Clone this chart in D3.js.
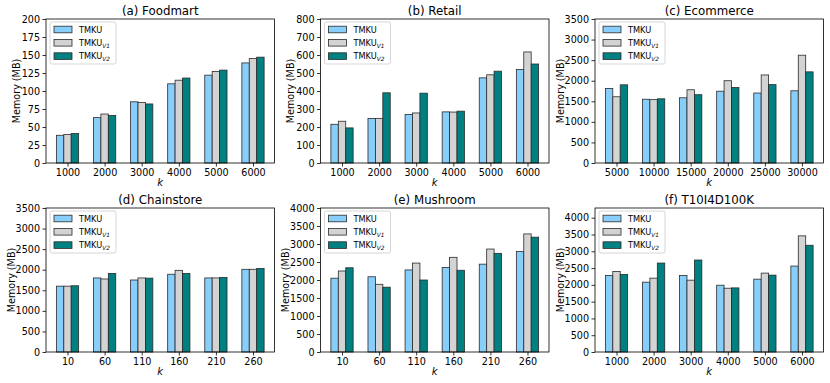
<!DOCTYPE html>
<html>
<head>
<meta charset="utf-8">
<script src="https://cdn.jsdelivr.net/npm/d3@7"></script>
<style>
  html, body { margin: 0; padding: 0; background: #fff; }
  svg { display: block; font-family: "DejaVu Sans", sans-serif; }
</style>
</head>
<body>
<svg id="chart" width="830" height="383"></svg>
<script>
// ---------- Data ----------
const seriesNames = ["TMKU", "TMKU_V1", "TMKU_V2"];
const seriesColors = ["#87CEFA", "#D3D3D3", "#008080"];

const panelTitles = ["(a) Foodmart", "(b) Retail", "(c) Ecommerce", "(d) Chainstore", "(e) Mushroom", "(f) T10I4D100K"];

const kFoodmart = ["1000", "2000", "3000", "4000", "5000", "6000"];
const tmkuFoodmart   = [38.5, 63, 85, 110, 122, 139];
const tmkuV1Foodmart = [39.5, 68, 84, 115, 127, 145];
const tmkuV2Foodmart = [41, 66, 82, 118, 129, 147];
const yTicksFoodmart = [0, 25, 50, 75, 100, 125, 150, 175, 200];

const kRetail = ["1000", "2000", "3000", "4000", "5000", "6000"];
const tmkuRetail   = [215, 247, 270, 284, 473, 520];
const tmkuV1Retail = [232, 248, 278, 283, 490, 617];
const tmkuV2Retail = [195, 390, 388, 288, 510, 550];
const yTicksRetail = [0, 100, 200, 300, 400, 500, 600, 700, 800];

const kEcommerce = ["5000", "10000", "15000", "20000", "25000", "30000"];
const tmkuEcommerce   = [1810, 1550, 1585, 1745, 1700, 1755];
const tmkuV1Ecommerce = [1610, 1540, 1780, 2000, 2140, 2620];
const tmkuV2Ecommerce = [1900, 1560, 1660, 1835, 1905, 2215];
const yTicksEcommerce = [0, 500, 1000, 1500, 2000, 2500, 3000, 3500];

const kChainstore = ["10", "60", "110", "160", "210", "260"];
const tmkuChainstore   = [1600, 1800, 1750, 1890, 1800, 2010];
const tmkuV1Chainstore = [1600, 1775, 1800, 1985, 1800, 2010];
const tmkuV2Chainstore = [1610, 1910, 1795, 1910, 1810, 2030];
const yTicksChainstore = [0, 500, 1000, 1500, 2000, 2500, 3000, 3500];

const kMushroom = ["10", "60", "110", "160", "210", "260"];
const tmkuMushroom   = [2050, 2090, 2280, 2350, 2440, 2790];
const tmkuV1Mushroom = [2250, 1880, 2470, 2630, 2860, 3280];
const tmkuV2Mushroom = [2340, 1800, 2000, 2270, 2740, 3190];
const yTicksMushroom = [0, 500, 1000, 1500, 2000, 2500, 3000, 3500, 4000];

const kT10 = ["1000", "2000", "3000", "4000", "5000", "6000"];
const tmkuT10   = [2280, 2080, 2280, 1990, 2170, 2560];
const tmkuV1T10 = [2400, 2200, 2140, 1900, 2350, 3460];
const tmkuV2T10 = [2310, 2650, 2740, 1910, 2290, 3180];
const yTicksT10 = [0, 500, 1000, 1500, 2000, 2500, 3000, 3500, 4000];

const yMaxes = [200, 800, 3500, 3500, 4000, 4290];

// ---------- Build panels ----------
const panels = [
  { cats: kFoodmart, series: [tmkuFoodmart, tmkuV1Foodmart, tmkuV2Foodmart], ticks: yTicksFoodmart },
  { cats: kRetail, series: [tmkuRetail, tmkuV1Retail, tmkuV2Retail], ticks: yTicksRetail },
  { cats: kEcommerce, series: [tmkuEcommerce, tmkuV1Ecommerce, tmkuV2Ecommerce], ticks: yTicksEcommerce },
  { cats: kChainstore, series: [tmkuChainstore, tmkuV1Chainstore, tmkuV2Chainstore], ticks: yTicksChainstore },
  { cats: kMushroom, series: [tmkuMushroom, tmkuV1Mushroom, tmkuV2Mushroom], ticks: yTicksMushroom },
  { cats: kT10, series: [tmkuT10, tmkuV1T10, tmkuV2T10], ticks: yTicksT10 }
];

const svg = d3.select("#chart");
const lefts = [46, 320.5, 595];
const tops = [19, 208];
const W = 228.5, H = 144;
const barW = 0.2;

panels.forEach((p, idx) => {
  const left = lefts[idx % 3];
  const top = tops[Math.floor(idx / 3)];
  const g = svg.append("g").attr("transform", `translate(${left},${top})`);

  const x = d3.scaleLinear().domain([-0.58, 5.58]).range([0, W]);
  const y = d3.scaleLinear().domain([0, yMaxes[idx]]).range([H, 0]);

  // bars
  p.series.forEach((vals, s) => {
    g.append("g").selectAll("rect")
      .data(vals)
      .join("rect")
      .attr("x", (d, i) => x(i + (s - 1) * barW - barW / 2))
      .attr("y", d => y(d))
      .attr("width", x(barW) - x(0))
      .attr("height", d => y(0) - y(d))
      .attr("fill", seriesColors[s])
      .attr("stroke", "#2a2a2a")
      .attr("stroke-width", 0.8);
  });

  // axes
  const xAxis = d3.axisBottom(x).tickValues(d3.range(p.cats.length))
    .tickFormat(i => p.cats[i]).tickSize(3.5).tickPadding(2.5);
  const gx = g.append("g").attr("transform", `translate(0,${H})`).call(xAxis);
  const yAxis = d3.axisLeft(y).tickValues(p.ticks).tickFormat(d3.format("d"))
    .tickSize(3.5).tickPadding(2.5);
  const gy = g.append("g").call(yAxis);
  [gx, gy].forEach(a => {
    a.select(".domain").remove();
    a.selectAll("line").attr("stroke", "#000").attr("stroke-width", 0.8);
    a.selectAll("text").attr("font-size", 9.6).attr("fill", "#000")
      .attr("font-family", "DejaVu Sans, sans-serif");
  });

  // frame
  g.append("rect").attr("x", 0).attr("y", 0).attr("width", W).attr("height", H)
    .attr("fill", "none").attr("stroke", "#000").attr("stroke-width", 0.8);

  // title
  g.append("text").attr("x", W / 2).attr("y", -4).attr("text-anchor", "middle")
    .attr("font-size", 11.8).text(panelTitles[idx]);

  // x label
  g.append("text").attr("x", W / 2).attr("y", H + 23).attr("text-anchor", "middle")
    .attr("font-size", 10).attr("font-style", "italic").text("k");

  // y label
  const off = yMaxes[idx] >= 1000 ? 35 : 30;
  g.append("text").attr("transform", `translate(${-off},${H / 2}) rotate(-90)`)
    .attr("text-anchor", "middle").attr("dominant-baseline", "central")
    .attr("font-size", 9.6).text("Memory (MB)");

  // legend
  const lg = g.append("g").attr("transform", "translate(4,3)");
  lg.append("rect").attr("width", 66).attr("height", 42).attr("rx", 2)
    .attr("fill", "#fff").attr("fill-opacity", 0.8)
    .attr("stroke", "#cccccc").attr("stroke-width", 0.8);
  seriesNames.forEach((name, s) => {
    const cy = 7.5 + s * 13.3;
    lg.append("rect").attr("x", 4).attr("y", cy - 3.3).attr("width", 18).attr("height", 6.6)
      .attr("fill", seriesColors[s]).attr("stroke", "#2a2a2a").attr("stroke-width", 0.8);
    const t = lg.append("text").attr("x", 29).attr("y", cy + 3).attr("font-size", 8.2);
    const parts = name.split("_");
    t.append("tspan").text(parts[0]);
    if (parts[1]) {
      t.append("tspan").attr("font-size", 5.8).attr("font-style", "italic")
        .attr("dy", 2).text(parts[1]);
    }
  });
});
</script>
</body>
</html>
